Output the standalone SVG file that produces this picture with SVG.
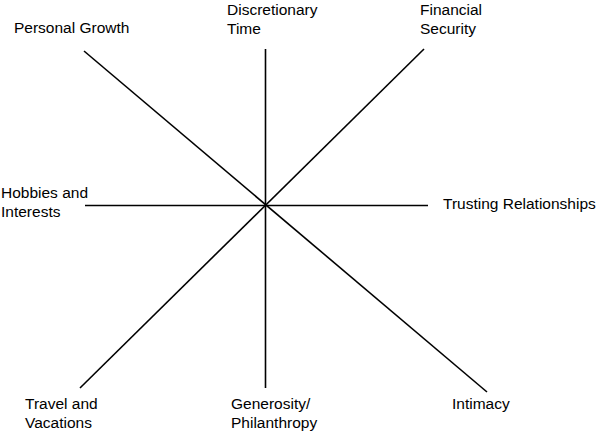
<svg xmlns="http://www.w3.org/2000/svg" width="600" height="431" viewBox="0 0 600 431">
<style>
text{font-family:"Liberation Sans",Arial,sans-serif;font-size:15.5px;fill:#000}
.ln{stroke:#000;stroke-width:1.6;fill:none}
</style>
<rect width="600" height="431" fill="#fff"/>
<g id="connectors">
<line class="ln" x1="265.5" y1="49" x2="265.5" y2="388"/>
<line class="ln" x1="85" y1="205.5" x2="428" y2="205.5"/>
<line class="ln" x1="84" y1="51" x2="487" y2="392"/>
<line class="ln" x1="424" y1="49" x2="80" y2="388"/>
</g>
<g id="personal-growth"><text x="14" y="33">Personal Growth</text></g>
<g id="discretionary-time"><text x="227" y="15">Discretionary</text><text x="227" y="34">Time</text></g>
<g id="financial-security"><text x="420" y="15">Financial</text><text x="420" y="34">Security</text></g>
<g id="hobbies"><text x="1" y="198">Hobbies and</text><text x="1" y="217">Interests</text></g>
<g id="trusting"><text x="443" y="209">Trusting Relationships</text></g>
<g id="travel"><text x="25" y="409">Travel and</text><text x="25" y="428">Vacations</text></g>
<g id="generosity"><text x="231" y="409">Generosity/</text><text x="231" y="428">Philanthropy</text></g>
<g id="intimacy"><text x="452" y="409">Intimacy</text></g>
</svg>
